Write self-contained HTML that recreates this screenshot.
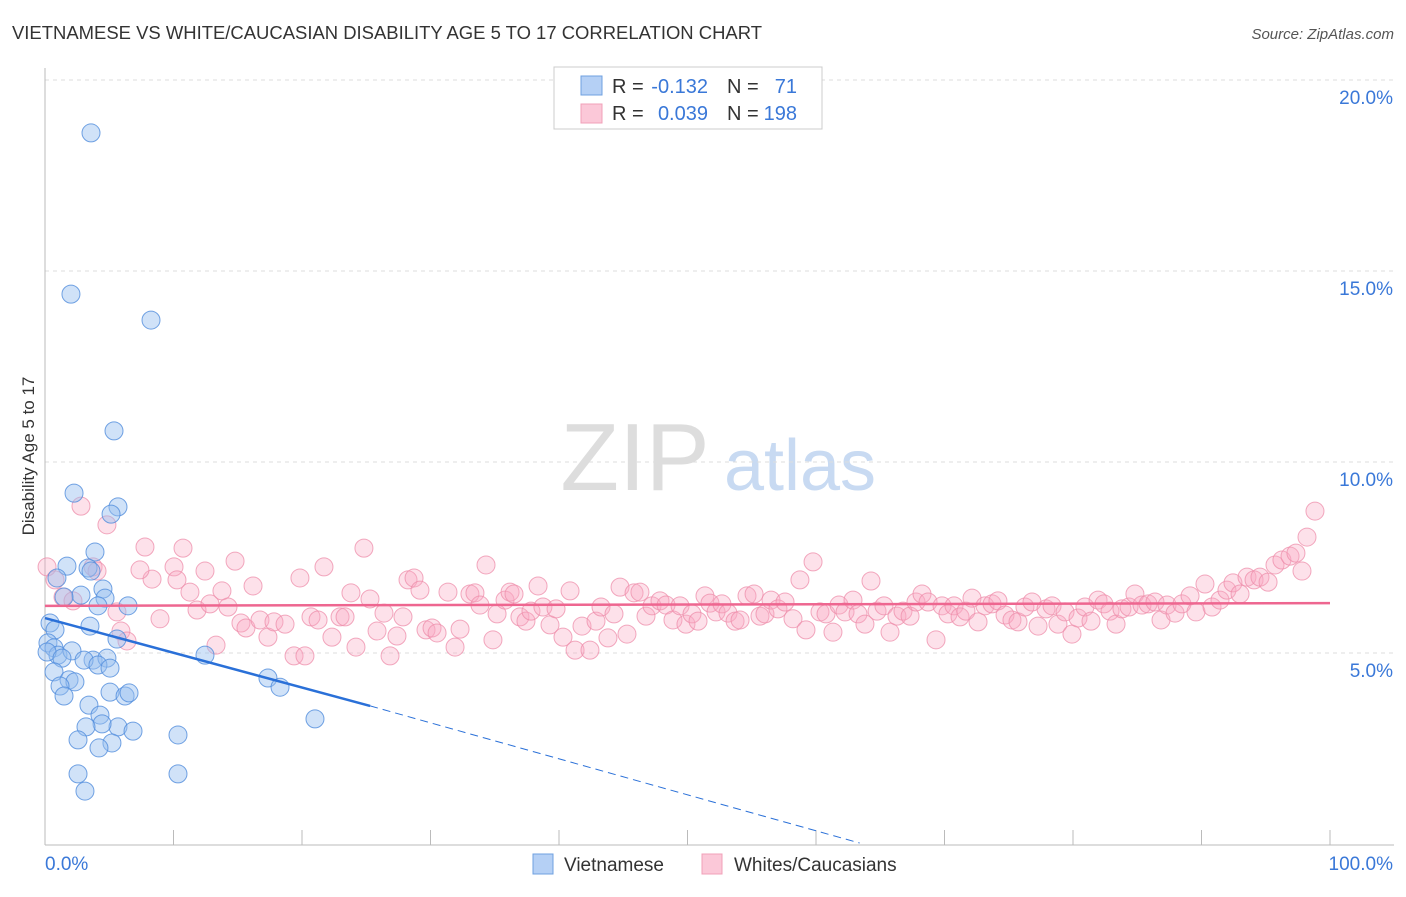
<!DOCTYPE html>
<html><head><meta charset="utf-8"><style>
body{margin:0;background:#fff;font-family:"Liberation Sans",sans-serif;}
svg text{font-family:"Liberation Sans",sans-serif;}
</style></head><body>
<svg id="chart" width="1406" height="892">
<text x="12" y="39" font-size="18" fill="#333" textLength="750" lengthAdjust="spacingAndGlyphs">VIETNAMESE VS WHITE/CAUCASIAN DISABILITY AGE 5 TO 17 CORRELATION CHART</text>
<text x="1394" y="39" font-size="15" fill="#555" font-style="italic" text-anchor="end">Source: ZipAtlas.com</text>
<text x="34" y="456" font-size="17" fill="#333" transform="rotate(-90 34 456)" text-anchor="middle">Disability Age 5 to 17</text>
<g><text x="635" y="490" font-size="96" fill="#ddd" font-family="Liberation Serif,serif" text-anchor="middle">ZIP</text><text x="800" y="490" font-size="72" fill="#c8daf2" text-anchor="middle">atlas</text></g>
<g id="grid"></g><g id="axes"></g><g id="pink"></g><g id="blue"></g><g id="trends"></g>
<g>
<rect x="554" y="67" width="268" height="62" fill="#fff" stroke="#ccc"/>
<rect x="581" y="76" width="21" height="19" fill="#b5d0f5" stroke="#6fa0e0"/>
<rect x="581" y="104" width="21" height="19" fill="#fbc8d8" stroke="#f0a0b8"/>
<text x="612" y="93" font-size="20" fill="#333">R =</text>
<text x="708" y="93" font-size="20" fill="#3a78d8" text-anchor="end">-0.132</text>
<text x="727" y="93" font-size="20" fill="#333">N =</text>
<text x="797" y="93" font-size="20" fill="#3a78d8" text-anchor="end">71</text>
<text x="612" y="120" font-size="20" fill="#333">R =</text>
<text x="708" y="120" font-size="20" fill="#3a78d8" text-anchor="end">0.039</text>
<text x="727" y="120" font-size="20" fill="#333">N =</text>
<text x="797" y="120" font-size="20" fill="#3a78d8" text-anchor="end">198</text>
</g>
<g>
<rect x="533" y="854" width="20" height="20" fill="#b5d0f5" stroke="#6fa0e0"/>
<text x="564" y="871" font-size="19" fill="#333">Vietnamese</text>
<rect x="702" y="854" width="20" height="20" fill="#fbc8d8" stroke="#f0a0b8"/>
<text x="734" y="871" font-size="19" fill="#333">Whites/Caucasians</text>
</g>
</svg>
<script>
const yTicks=[5,10,15,20];
const yTickLabels=["5.0%","10.0%","15.0%","20.0%"];
const xTicks=[0,10,20,30,40,50,60,70,80,90,100];
const xEndLabels=["0.0%","100.0%"];
const blueX=[3.58,2.02,8.25,5.37,2.26,5.68,5.14,3.89,1.71,3.35,3.58,0.93,4.51,2.80,1.48,4.67,4.12,6.46,3.50,0.39,0.78,5.60,0.23,0.70,1.01,2.10,0.16,1.32,3.74,4.82,3.04,4.12,12.45,5.06,0.70,1.87,2.33,1.17,5.06,6.23,6.54,17.35,18.29,1.48,3.42,4.28,5.68,4.44,6.85,3.19,21.01,10.35,2.57,5.21,4.20,2.57,10.35,3.11];
const blueY=[19.06,14.84,14.16,11.26,9.63,9.27,9.08,8.09,7.72,7.67,7.59,7.41,7.12,6.96,6.91,6.88,6.68,6.68,6.15,6.23,6.05,5.81,5.71,5.58,5.39,5.50,5.47,5.31,5.26,5.31,5.26,5.13,5.39,5.05,4.95,4.74,4.69,4.58,4.42,4.32,4.40,4.79,4.55,4.32,4.08,3.82,3.51,3.59,3.40,3.51,3.72,3.30,3.17,3.09,2.96,2.28,2.28,1.83];
const pinkX=[0.16,0.78,1.40,2.80,4.82,3.74,4.05,2.18,5.60,5.91,6.38,7.78,8.33,7.39,8.95,10.04,10.74,10.27,11.28,11.83,12.45,12.84,13.31,13.77,14.24,14.79,15.25,15.64,16.19,16.73,17.35,17.82,18.68,19.38,20.23,19.84,20.70,21.25,21.71,22.33,22.96,23.35,23.81,24.20,24.82,25.29,25.84,26.38,26.85,27.39,27.86,28.25,28.72,29.18,29.65,30.12,30.51,31.36,31.91,32.30,33.07,33.46,34.32,33.85,34.86,35.18,35.80,36.19,36.50,36.96,37.43,37.82,38.37,38.75,39.30,39.77,40.31,40.86,41.25,41.79,42.41,42.88,43.27,43.81,44.28,44.75,45.29,45.84,46.30,46.77,47.24,47.86,48.33,48.87,49.42,49.88,50.35,50.82,51.36,51.75,52.22,52.68,53.15,53.70,54.09,54.63,55.18,55.64,56.03,56.50,57.04,57.59,58.21,58.75,59.22,59.77,60.31,60.78,61.32,61.79,62.26,62.88,63.27,63.81,64.28,64.75,65.29,65.76,66.30,66.77,67.32,67.78,68.25,68.72,69.34,69.81,70.27,70.74,71.21,71.67,72.14,72.61,73.15,73.70,74.16,74.71,75.25,75.72,76.26,76.81,77.28,77.90,78.37,78.83,79.38,79.92,80.39,80.93,81.40,81.95,82.41,82.88,83.35,83.81,84.36,84.82,85.37,85.84,86.38,86.85,87.32,87.94,88.48,89.11,89.57,90.27,90.82,91.44,91.98,92.45,93.00,93.54,94.09,94.55,95.18,95.72,96.26,96.89,97.35,97.82,98.21,98.83];
const pinkY=[7.70,7.36,6.91,9.29,8.80,7.70,7.59,6.81,6.52,6.02,5.76,8.22,7.38,7.62,6.34,7.70,8.19,7.36,7.04,6.57,7.59,6.73,5.65,7.07,6.65,7.85,6.23,6.10,7.20,6.31,5.86,6.26,6.20,5.37,5.37,7.41,6.39,6.31,7.70,5.86,6.39,6.39,7.02,5.60,8.19,6.86,6.02,6.49,5.37,5.89,6.39,7.36,7.41,7.09,6.05,6.10,5.97,7.04,5.60,6.07,6.99,7.02,7.75,6.70,5.79,6.47,6.83,7.04,6.99,6.39,6.28,6.54,7.20,6.65,6.18,6.60,5.86,7.07,5.52,6.15,5.52,6.28,6.65,5.84,6.47,7.17,5.94,7.02,7.04,6.41,6.68,6.81,6.70,6.31,6.68,6.20,6.47,6.28,6.94,6.75,6.52,6.73,6.49,6.28,6.31,6.94,6.99,6.41,6.47,6.83,6.60,6.78,6.34,7.36,6.05,7.83,6.52,6.47,5.99,6.70,6.52,6.83,6.47,6.20,7.33,6.54,6.68,5.99,6.41,6.54,6.41,6.78,6.99,6.78,5.79,6.68,6.47,6.68,6.39,6.54,6.88,6.26,6.68,6.73,6.81,6.44,6.31,6.26,6.65,6.78,6.15,6.60,6.68,6.20,6.52,5.94,6.36,6.65,6.28,6.83,6.73,6.54,6.20,6.60,6.65,6.99,6.70,6.73,6.78,6.31,6.70,6.49,6.73,6.94,6.52,7.25,6.65,6.83,7.09,7.28,6.99,7.43,7.36,7.43,7.30,7.75,7.88,7.98,8.06,7.59,8.48,9.16];
const blueTrend={x0:0,y0:6.36,x1:25.3,y1:4.06,x2:63.4,y2:0.47};
const pinkTrend={x0:0,y0:6.68,x1:100,y1:6.75};
const NS="http://www.w3.org/2000/svg";
const X=v=>45+v*12.85;
const Y=v=>861-v*38.2;
function mk(t,p,a){const e=document.createElementNS(NS,t);for(const k in a)e.setAttribute(k,a[k]);p.appendChild(e);return e;}
const grid=document.getElementById('grid'),axes=document.getElementById('axes');
yTicks.forEach((t,i)=>{
 const l=mk('line',grid,{x1:45,x2:1394,y1:Y(t)-17,y2:Y(t)-17,stroke:'#ddd','stroke-dasharray':'4,4'});
 
 
 const tx=mk('text',grid,{x:1393,y:Y(t)+7,'font-size':19,fill:'#3a78d8','text-anchor':'end'});
 tx.textContent=yTickLabels[i];
 
 
});
const topGrid=mk('line',grid,{x1:45,x2:1394,y1:80,y2:80,stroke:'#ddd','stroke-dasharray':'4,4'});


const ya=mk('line',axes,{x1:45,x2:45,y1:68,y2:845,stroke:'#bbb'});


const xa=mk('line',axes,{x1:45,x2:1394,y1:845,y2:845,stroke:'#bbb'});


xTicks.forEach(t=>{
 const l=mk('line',axes,{x1:X(t),x2:X(t),y1:830,y2:845,stroke:'#bbb'});
 
 
});
const xl0=mk('text',axes,{x:45,y:870,'font-size':19,fill:'#3a78d8'});xl0.textContent=xEndLabels[0];


const xl1=mk('text',axes,{x:1393,y:870,'font-size':19,fill:'#3a78d8','text-anchor':'end'});xl1.textContent=xEndLabels[1];


const pg=document.getElementById('pink');
pinkX.forEach((v,i)=>{
 const c=mk('circle',pg,{cx:X(v),cy:Y(pinkY[i]),r:9,fill:'rgba(248,170,195,0.35)',stroke:'rgba(238,140,170,0.75)','stroke-width':1});
 
 
});
const bg=document.getElementById('blue');
blueX.forEach((v,i)=>{
 const c=mk('circle',bg,{cx:X(v),cy:Y(blueY[i]),r:9,fill:'rgba(150,190,240,0.45)',stroke:'rgba(80,140,220,0.8)','stroke-width':1});
 
 
});
const tg=document.getElementById('trends');
const pt=mk('line',tg,{x1:X(pinkTrend.x0),y1:Y(pinkTrend.y0),x2:X(pinkTrend.x1),y2:Y(pinkTrend.y1),stroke:'#ee6690','stroke-width':2.5});


const bt=mk('line',tg,{x1:X(blueTrend.x0),y1:Y(blueTrend.y0),x2:X(blueTrend.x1),y2:Y(blueTrend.y1),stroke:'#2a70d8','stroke-width':2.5});


const bd=mk('line',tg,{x1:X(blueTrend.x1),y1:Y(blueTrend.y1),x2:X(blueTrend.x2),y2:Y(blueTrend.y2),stroke:'#2a70d8','stroke-width':1,'stroke-dasharray':'8,5'});


</script>
</body></html>
